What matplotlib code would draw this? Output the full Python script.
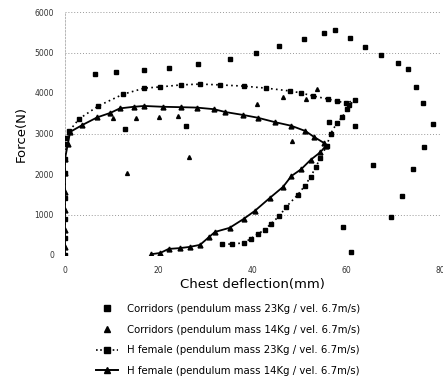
import matplotlib
matplotlib.use("Agg")
import matplotlib.pyplot as plt
from matplotlib.lines import Line2D

# Corridor 23 kg (squares)
c23_x = [6.3, 10.8, 16.9, 22.1, 28.4, 35.1, 40.7, 45.7, 50.9, 55.2, 57.6, 60.8, 64.1, 67.5,
         71.0, 73.2, 74.9, 76.4, 78.4, 76.6, 74.2, 71.9, 69.5,
         12.8, 25.8, 56.3, 61.9, 65.8, 59.3, 61.0]
c23_y = [4470, 4520, 4570, 4620, 4720, 4840, 4990, 5160, 5330, 5480, 5560, 5360, 5140, 4940,
         4740, 4590, 4150, 3750, 3230, 2670, 2120, 1460, 940,
         3110, 3190, 3280, 3180, 2220, 690, 70]

# Corridor 14 kg (triangles)
c14_x = [10.2, 15.2, 20.1, 24.2, 40.9, 46.5, 51.5, 53.7, 13.2, 26.4, 48.5]
c14_y = [3380, 3380, 3410, 3430, 3730, 3900, 3850, 4100, 2020, 2420, 2810]

# H female 23 kg (dotted, squares)
h23_x = [0, 0, 0, 0, 0, 0, 0, 0.3, 0.9, 3.0, 7.1, 12.4, 16.9, 20.3, 24.7, 28.8, 33.1, 38.1,
         42.9, 48.0, 50.4, 52.8, 56.1, 58.0, 60.0, 61.9, 60.6, 60.2, 59.1, 58.0, 56.7, 55.8,
         54.5, 53.5, 52.4, 51.1, 49.6, 47.2, 45.7, 43.9, 42.6, 41.1, 39.6, 38.1, 35.7, 33.5]
h23_y = [0, 420, 890, 1410, 2020, 2370, 2740, 2900, 3060, 3360, 3680, 3970, 4120, 4150, 4200,
         4220, 4200, 4170, 4120, 4050, 4000, 3930, 3850, 3800, 3750, 3830, 3700, 3600, 3400,
         3260, 3000, 2690, 2400, 2170, 1930, 1700, 1480, 1190, 960, 770, 620, 520, 400, 300,
         270, 270]

# H female 14 kg (solid, triangles)
h14_x = [0, 0, 0, 0, 0, 0, 0, 0.6, 1.1, 3.7, 6.9, 9.7, 11.7, 14.7, 16.9, 20.8, 24.7, 28.1,
         31.8, 34.2, 37.9, 41.1, 44.8, 48.3, 51.3, 53.2, 55.2, 55.6, 54.5, 52.4, 50.4, 48.3,
         46.5, 43.7, 40.5, 38.1, 35.1, 32.0, 30.7, 28.8, 26.6, 24.5, 22.1, 20.3, 18.4]
h14_y = [0, 200, 620, 1110, 1560, 2020, 2370, 2740, 3040, 3210, 3400, 3510, 3620, 3660, 3680,
         3660, 3650, 3640, 3600, 3530, 3460, 3390, 3280, 3190, 3060, 2910, 2770, 2690, 2540,
         2350, 2120, 1950, 1680, 1410, 1090, 890, 670, 570, 440, 250, 200, 170, 150, 50, 20]

x_ticks = [0, 20, 40, 60, 80]
y_ticks = [0, 1000, 2000, 3000, 4000, 5000, 6000]
labels = ["Corridors (pendulum mass 23Kg / vel. 6.7m/s)",
          "Corridors (pendulum mass 14Kg / vel. 6.7m/s)",
          "H female (pendulum mass 23Kg / vel. 6.7m/s)",
          "H female (pendulum mass 14Kg / vel. 6.7m/s)"]

fig = plt.figure(figsize=(4.43, 3.85), dpi=100)
ax = fig.add_axes([65/443, 1-255/385, 375/443, 243/385])

ax.plot(h23_x, h23_y, linestyle=(0, (1, 2)), color="black", lw=1.2,
        marker="s", ms=3.5, zorder=3)
ax.plot(h14_x, h14_y, linestyle="-", color="black", lw=1.3,
        marker="^", ms=3.5, zorder=3)
ax.plot(c23_x, c23_y, linestyle="none", color="black", marker="s", ms=3.0, zorder=2)
ax.plot(c14_x, c14_y, linestyle="none", color="black", marker="^", ms=2.8, zorder=2)

ax.set_xlim(0, 80)
ax.set_ylim(0, 6000)
ax.set_xticks(x_ticks)
ax.set_yticks(y_ticks)
ax.tick_params(length=0, labelsize=5.5, pad=8, colors="#333333")
for g in [1000, 3000, 5000, 6000]:
    ax.axhline(g, color="#999999", lw=0.7, linestyle=(0, (1, 2)), zorder=1)
for s in ["right", "bottom", "top"]:
    ax.spines[s].set_visible(False)
ax.spines["left"].set_color("#aaaaaa")
ax.spines["left"].set_linestyle((0, (2, 2)))
ax.spines["left"].set_linewidth(0.6)

ax.set_xlabel("Chest deflection(mm)", fontsize=9.5, labelpad=2)
ax.set_ylabel("Force(N)", fontsize=9.5, labelpad=5)

handles = [
    Line2D([], [], linestyle="none", color="black", marker="s", ms=5),
    Line2D([], [], linestyle="none", color="black", marker="^", ms=5),
    Line2D([], [], linestyle=(0, (1, 1.5)), color="black", marker="s", ms=5, lw=1.2),
    Line2D([], [], linestyle="-", color="black", marker="^", ms=5, lw=1.4),
]
fig.legend(handles, labels, loc="upper left", bbox_to_anchor=(96/443, 1-304/385),
           frameon=False, fontsize=7.3, labelspacing=1.05, handlelength=2.2,
           handletextpad=0.9, borderpad=0, borderaxespad=0)

fig.savefig("out.png", dpi=100)
